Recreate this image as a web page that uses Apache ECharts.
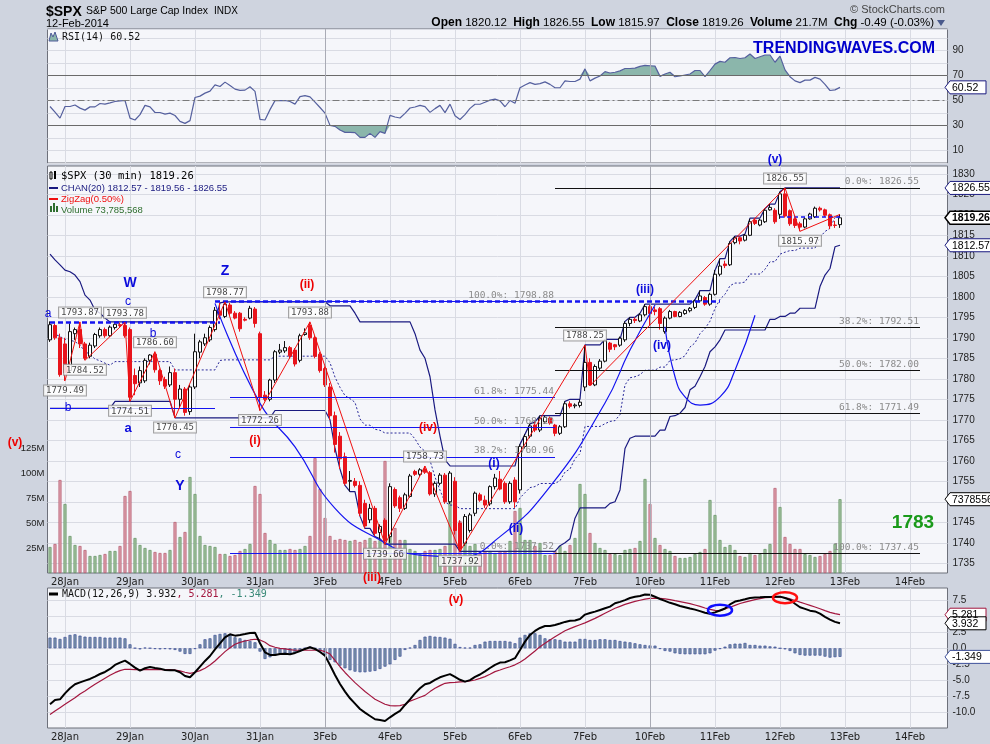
<!DOCTYPE html>
<html>
<head>
<meta charset="utf-8">
<title>$SPX 30 min</title>
<script src="https://cdn.jsdelivr.net/npm/echarts@6.0.0/dist/echarts.min.js"></script>
<style>
  html, body { margin: 0; padding: 0; background: #cfd4df; }
  #main { width: 990px; height: 744px; }
</style>
</head>
<body>
<div id="main"></div>
<script>
// x axis: 3 bars of 27Jan, then 13 half-hour bars per trading day
const days = ['28Jan','29Jan','30Jan','31Jan','3Feb','4Feb','5Feb','6Feb','7Feb','10Feb','11Feb','12Feb','13Feb','14Feb'];
const times = ['09:30','10:00','10:30','11:00','11:30','12:00','12:30','13:00','13:30','14:00','14:30','15:00','15:30'];
const leadBars = ['27Jan 14:30','27Jan 15:00','27Jan 15:30'];

// price bars (30 min)
const opens = [1789.5,1793.0,1790.0,
  1788.5,1782.0,1791.0,1792.0,1788.5,1785.5,1788.0,1790.5,1792.0,1790.5,1792.5,1793.2,1793.0,
  1792.0,1780.8,1779.0,1779.5,1784.5,1786.0,1782.0,1779.8,1778.5,1781.5,1775.0,1777.5,1772.0,
  1778.0,1786.5,1788.5,1789.5,1792.0,1796.5,1795.2,1798.0,1796.0,1796.0,1794.5,1794.8,1797.0,
  1791.0,1776.0,1775.0,1779.7,1786.5,1786.8,1787.6,1787.0,1784.5,1790.8,1793.0,1790.0,1786.0,
  1782.5,1778.0,1771.0,1766.0,1761.0,1755.0,1755.0,1754.0,1749.6,1745.6,1748.4,1742.5,1745.5,
  1741.5,1753.0,1751.0,1748.4,1751.3,1757.4,1756.7,1758.0,1757.1,1751.9,1754.5,1756.5,1750.0,
  1755.0,1744.8,1739.9,1743.0,1747.2,1751.7,1750.4,1749.5,1753.7,1755.5,1754.5,1750.0,1755.3,
  1752.9,1763.5,1766.0,1768.7,1767.5,1769.5,1770.4,1768.7,1766.7,1768.3,1773.9,1773.4,1773.5,
  1778.0,1784.0,1778.5,1782.6,1784.3,1788.7,1788.3,1788.2,1789.5,1793.5,1794.5,1794.1,1795.6,
  1797.6,1796.8,1797.1,1791.5,1794.8,1796.4,1795.2,1795.9,1796.6,1797.4,1799.0,1799.8,1798.2,
  1800.6,1805.5,1808.0,1807.8,1813.2,1814.4,1813.8,1815.0,1818.7,1817.5,1818.3,1821.2,1821.1,
  1820.12,1825.1,1821.0,1819.0,1817.8,1817.0,1819.0,1819.5,1821.6,1821.2,1820.0,1817.5,1817.6];
const highs = [1794.0,1793.5,1791.0,
  1790.0,1793.5,1792.5,1793.87,1789.0,1788.8,1791.2,1792.5,1792.5,1793.0,1793.5,1793.7,1793.78,
  1792.5,1782.5,1783.0,1785.0,1786.0,1786.60,1782.5,1780.5,1783.0,1782.5,1778.5,1778.0,1778.5,
  1791.0,1789.5,1791.0,1793.0,1797.5,1798.5,1798.77,1798.5,1796.5,1796.3,1795.0,1797.8,1797.5,
  1791.5,1777.0,1780.0,1787.0,1788.5,1789.2,1788.0,1787.5,1791.0,1792.3,1793.88,1790.5,1786.5,
  1783.0,1779.0,1772.0,1767.0,1762.0,1757.5,1755.8,1755.0,1750.5,1749.5,1749.0,1744.5,1746.0,
  1754.5,1753.5,1751.5,1752.2,1756.8,1757.8,1758.2,1758.73,1757.5,1755.0,1757.0,1757.0,1757.5,
  1756.0,1745.5,1747.0,1747.3,1752.5,1752.2,1751.5,1754.0,1756.8,1757.5,1755.0,1755.0,1756.0,
  1764.0,1766.5,1769.0,1769.5,1771.0,1771.0,1770.8,1769.0,1768.7,1774.5,1774.5,1774.0,1775.0,
  1788.25,1785.0,1783.5,1784.8,1789.6,1789.0,1788.5,1790.3,1794.0,1795.0,1795.0,1796.0,1798.2,
  1798.0,1797.5,1797.5,1795.2,1796.8,1796.6,1796.5,1797.0,1797.5,1799.3,1801.5,1800.2,1801.0,
  1806.5,1809.3,1808.8,1813.5,1814.8,1814.8,1815.3,1819.0,1819.2,1819.0,1821.5,1822.6,1821.6,
  1825.6,1826.55,1821.3,1819.3,1818.3,1819.4,1820.5,1822.0,1822.0,1821.5,1820.3,1818.5,1820.1];
const lows = [1789.0,1789.5,1780.5,
  1779.49,1781.5,1789.5,1787.5,1784.52,1785.0,1787.5,1790.0,1790.0,1790.2,1792.0,1792.5,1790.0,
  1774.51,1776.0,1778.0,1779.0,1783.5,1781.5,1778.5,1777.5,1778.0,1770.45,1773.0,1771.0,1771.2,
  1777.5,1785.0,1788.0,1789.0,1791.5,1794.5,1794.8,1795.5,1794.5,1791.5,1794.0,1794.5,1792.5,
  1772.26,1774.5,1774.5,1779.0,1786.0,1786.3,1785.0,1783.0,1784.0,1790.5,1789.5,1785.0,1781.5,
  1778.0,1770.0,1762.0,1758.0,1754.0,1752.5,1753.5,1746.5,1743.5,1744.8,1741.5,1741.0,1739.66,
  1740.0,1748.5,1747.5,1748.0,1751.0,1756.3,1756.2,1756.8,1751.5,1751.2,1754.0,1749.5,1749.5,
  1742.0,1737.92,1739.3,1742.5,1746.5,1750.0,1748.5,1749.0,1753.0,1752.8,1749.5,1749.5,1748.5,
  1752.0,1763.0,1765.5,1767.0,1767.0,1769.0,1768.8,1766.0,1766.3,1768.0,1772.8,1772.8,1773.0,
  1777.0,1778.3,1778.2,1782.0,1784.0,1786.5,1787.0,1787.8,1789.0,1792.8,1793.6,1793.8,1795.2,
  1793.0,1795.5,1792.0,1791.0,1794.5,1795.0,1795.0,1795.6,1796.2,1797.0,1798.7,1797.8,1797.8,
  1800.3,1805.0,1807.0,1807.5,1812.8,1812.8,1813.5,1814.8,1817.5,1817.2,1818.0,1821.0,1817.8,
  1819.0,1819.3,1817.3,1816.8,1815.97,1816.7,1818.8,1819.2,1820.8,1819.5,1816.5,1816.8,1816.8];
const closes = [1793.2,1790.0,1781.0,
  1781.5,1791.5,1792.0,1788.5,1785.0,1788.2,1790.8,1792.0,1790.5,1792.6,1793.3,1793.0,1790.5,
  1775.5,1778.8,1782.0,1784.5,1785.8,1782.2,1779.5,1778.2,1781.5,1775.0,1777.5,1771.8,1778.0,
  1786.6,1789.0,1790.0,1792.5,1796.7,1795.5,1798.2,1796.0,1794.8,1792.2,1794.3,1797.2,1793.5,
  1775.5,1775.0,1779.7,1786.6,1787.0,1787.6,1785.6,1783.6,1790.5,1791.2,1790.0,1785.5,1782.0,
  1778.5,1771.0,1764.0,1760.5,1754.5,1755.2,1754.0,1747.2,1744.1,1748.4,1742.3,1744.0,1740.5,
  1753.7,1749.0,1748.4,1751.7,1756.3,1756.7,1757.8,1757.2,1751.9,1754.5,1756.5,1750.0,1757.0,
  1743.0,1738.5,1746.4,1746.8,1752.1,1750.4,1749.2,1753.7,1755.8,1753.1,1750.0,1754.5,1750.0,
  1763.5,1765.9,1768.5,1767.5,1770.4,1770.6,1769.2,1766.7,1768.3,1773.9,1773.3,1773.6,1774.3,
  1784.0,1778.5,1783.0,1784.3,1789.3,1787.2,1787.8,1789.9,1793.5,1794.5,1794.2,1795.6,1797.6,
  1795.9,1796.4,1793.5,1794.8,1796.4,1795.2,1796.2,1796.7,1797.2,1799.0,1800.2,1798.2,1800.6,
  1805.5,1807.5,1807.6,1813.0,1814.4,1813.6,1815.0,1818.3,1817.9,1818.7,1821.1,1821.8,1818.3,
  1825.1,1819.7,1817.8,1817.4,1817.0,1819.0,1820.2,1821.6,1821.2,1819.9,1817.3,1817.4,1819.26];

// volume, millions
const volume = [26,29,93,
  69,37,28,27,23,17,17,18,19,22,22,27,77,
  82,35,28,25,23,21,20,20,23,51,36,41,96,
  79,37,28,27,26,19,19,17,18,22,24,29,87,
  79,40,33,29,23,23,24,23,24,27,37,115,84,
  55,37,33,34,33,32,33,31,33,35,32,33,112,
  86,45,33,33,24,22,19,22,23,23,24,27,100,
  82,52,35,27,29,20,22,22,20,22,22,32,62,
  65,33,33,27,30,18,18,22,27,22,28,35,89,
  79,40,30,25,23,19,19,18,23,24,25,32,94,
  69,35,28,24,22,17,15,15,16,19,21,24,73,
  58,33,26,28,23,17,16,20,18,19,24,29,85,
  66,36,29,24,24,19,18,16,17,19,22,29,73.79];

// price channel CHAN(20)
const chanUpper = [1810.4,1809.0,1807.8,
  1806.5,1806.1,1805.3,1803.7,1800.4,1799.2,1796.8,1796.0,1794.8,1793.87,1793.87,1793.87,1793.87,
  1793.87,1793.87,1793.87,1793.87,1793.87,1793.87,1793.87,1793.87,1793.87,1793.87,1793.87,1793.87,1793.87,
  1793.87,1793.87,1793.87,1793.87,1793.87,1798.5,1798.77,1798.77,1798.77,1798.77,1798.77,1798.77,1798.77,
  1798.77,1798.77,1798.77,1798.77,1798.77,1798.77,1798.77,1798.77,1798.77,1798.77,1798.77,1798.77,1798.77,
  1798.77,1797.8,1797.8,1797.8,1797.8,1797.8,1796.0,1793.88,1793.88,1793.88,1793.88,1793.88,1793.88,
  1793.88,1793.88,1793.88,1793.88,1793.88,1791.0,1787.0,1785.0,1780.5,1772.4,1766.0,1760.2,1758.73,
  1758.73,1758.73,1758.73,1758.73,1758.73,1758.73,1758.73,1758.73,1758.73,1758.73,1758.73,1758.73,1758.73,
  1764.0,1766.5,1769.0,1769.5,1771.0,1771.0,1771.0,1771.0,1771.0,1774.5,1775.0,1775.0,1775.0,
  1788.25,1788.25,1788.25,1788.25,1789.6,1789.6,1789.6,1789.6,1794.0,1795.0,1795.0,1796.0,1798.2,
  1798.2,1798.2,1798.2,1798.2,1798.2,1798.2,1798.2,1798.2,1798.2,1799.3,1801.5,1801.5,1801.5,
  1806.5,1809.3,1809.3,1813.5,1814.8,1814.8,1815.3,1819.2,1819.2,1819.2,1821.5,1822.6,1822.6,
  1825.6,1826.55,1826.55,1826.55,1826.55,1826.55,1826.55,1826.55,1826.55,1826.55,1826.55,1826.55,1826.55];
const chanLower = [1772.8,1772.8,1772.8,
  1772.8,1772.8,1772.8,1772.8,1772.8,1772.8,1772.8,1772.8,1772.8,1772.8,1774.51,1774.51,1774.51,
  1774.51,1774.51,1774.51,1774.51,1774.51,1774.51,1774.51,1774.51,1774.51,1770.45,1770.45,1770.45,1770.45,
  1770.45,1770.45,1770.45,1770.45,1770.45,1770.45,1770.45,1770.45,1770.45,1770.45,1770.45,1770.45,1770.45,
  1770.45,1770.45,1770.45,1772.26,1772.26,1772.26,1772.26,1772.26,1772.26,1772.26,1772.26,1772.26,1772.26,
  1772.26,1770.0,1763.0,1758.0,1754.0,1752.5,1752.5,1746.5,1743.5,1743.5,1741.5,1741.0,1739.66,
  1739.66,1739.66,1739.66,1739.66,1739.66,1739.66,1739.66,1739.66,1739.66,1739.66,1739.66,1739.66,1739.66,
  1739.66,1737.92,1737.92,1737.92,1737.92,1737.92,1737.92,1737.92,1737.92,1737.92,1737.92,1737.92,1737.92,
  1737.92,1737.92,1737.92,1737.92,1737.92,1737.92,1737.92,1737.92,1739.3,1740.0,1741.0,1746.0,1748.5,
  1748.5,1748.5,1748.5,1748.5,1748.5,1749.6,1750.0,1752.9,1763.0,1765.5,1766.0,1766.0,1766.0,
  1766.0,1766.0,1767.5,1767.5,1770.8,1771.0,1771.6,1773.0,1777.3,1778.2,1780.5,1783.0,1786.6,
  1787.8,1789.5,1791.9,1791.9,1791.9,1791.9,1791.9,1791.9,1791.9,1791.9,1791.9,1794.5,1794.5,
  1795.2,1795.2,1796.0,1796.0,1797.2,1797.2,1797.2,1797.2,1802.5,1805.3,1806.9,1812.2,1812.57];

// RSI(14)
const rsi = [45.2,40.7,35.9,
  45.2,45.2,46.4,43.9,42.3,44.9,44.9,47.6,47.1,48.1,49.2,49.7,50.0,
  35.9,34.4,38.7,46.1,44.9,40.4,40.4,39.1,39.9,38.0,33.3,31.7,33.9,
  52.4,53.5,55.9,57.5,62.5,61.2,64.7,62.0,59.1,58.1,58.3,61.0,57.3,
  34.9,34.4,42.7,49.9,49.9,50.0,49.2,47.1,53.1,53.9,52.9,48.7,44.4,
  39.9,30.1,29.3,26.4,24.5,24.5,24.3,20.5,20.5,23.7,20.5,25.1,23.7,
  38.1,36.8,36.0,39.7,44.0,44.8,46.1,45.1,40.5,43.5,46.1,40.3,47.1,
  37.8,34.8,38.7,43.7,47.0,47.0,48.6,50.3,51.1,49.7,45.0,50.0,47.8,
  60.2,62.4,64.3,62.9,63.5,64.9,62.9,60.2,60.2,65.7,65.2,65.2,67.1,
  75.3,65.7,67.9,69.6,73.1,72.0,72.6,73.7,75.6,75.6,75.9,77.3,78.1,
  77.8,77.5,69.3,71.2,72.6,69.0,69.6,70.4,71.2,74.0,74.0,69.0,74.0,
  79.1,81.3,80.6,84.2,84.4,83.6,84.2,87.2,83.6,85.0,86.4,86.4,80.6,
  85.5,74.5,69.0,65.7,64.3,66.3,66.3,68.5,67.1,62.9,58.0,58.5,60.52];

// MACD(12,26,9): line, signal, histogram
const macd = [-8.81,-8.12,-8.02,
  -7.08,-6.29,-5.66,-5.35,-5.08,-4.82,-4.45,-4.04,-3.72,-3.25,-2.62,-2.25,-1.94,
  -2.46,-3.04,-3.51,-3.14,-2.94,-3.09,-3.20,-3.41,-3.46,-3.46,-3.77,-4.35,-4.56,
  -3.77,-2.88,-1.99,-1.21,-0.16,0.79,1.73,2.20,1.99,2.10,2.25,2.41,2.46,
  0.79,-0.63,-1.05,-1.05,-0.89,-0.84,-0.94,-0.73,-0.42,-0.10,0.16,-0.10,-0.58,
  -1.15,-2.62,-4.19,-5.61,-6.81,-7.86,-8.70,-9.54,-10.12,-10.64,-11.16,-11.27,-11.43,
  -10.85,-10.32,-9.85,-8.91,-8.02,-7.08,-6.29,-5.66,-5.45,-4.98,-4.56,-4.30,-4.06,
  -4.50,-4.95,-5.24,-5.00,-4.50,-4.12,-3.62,-3.10,-2.60,-2.25,-2.20,-1.90,-1.55,
  -0.26,1.05,2.10,2.73,3.20,3.50,3.51,3.67,3.90,4.15,4.33,4.38,4.60,
  5.30,5.55,5.77,6.03,6.29,6.55,7.08,7.30,7.58,7.90,8.10,8.22,8.45,
  8.42,8.10,7.75,7.45,7.15,6.92,6.65,6.45,6.25,6.08,5.85,5.60,5.42,
  5.65,5.95,6.25,6.90,7.35,7.52,7.70,7.92,8.00,8.02,8.07,8.07,8.10,
  8.12,7.90,7.62,7.00,6.45,6.20,5.92,5.80,5.45,4.95,4.52,4.15,3.932];
const signal = [-10.40,-9.85,-9.33,
  -8.81,-8.28,-7.76,-7.18,-6.71,-6.18,-5.66,-5.19,-4.72,-4.25,-3.83,-3.51,-3.30,
  -3.30,-3.35,-3.35,-3.35,-3.35,-3.35,-3.35,-3.35,-3.35,-3.41,-3.56,-3.77,-3.93,
  -3.77,-3.51,-3.14,-2.62,-1.99,-1.26,-0.52,0.10,0.63,0.94,1.15,1.31,1.42,
  1.31,0.94,0.42,0.16,0.00,-0.10,-0.21,-0.31,-0.31,-0.31,-0.31,-0.31,-0.31,
  -0.52,-0.90,-1.90,-2.90,-3.80,-4.60,-5.40,-6.10,-6.80,-7.40,-8.00,-8.40,-8.80,
  -9.00,-9.05,-9.00,-8.80,-8.30,-8.00,-7.70,-7.40,-6.81,-6.29,-5.87,-5.50,-5.40,
  -5.35,-5.29,-5.24,-5.14,-4.98,-4.72,-4.45,-4.09,-3.67,-3.41,-3.14,-2.90,-2.60,
  -2.20,-1.68,-1.05,-0.42,0.26,0.79,1.31,1.83,2.30,2.75,3.10,3.40,3.70,
  4.00,4.35,4.70,5.10,5.50,5.90,6.30,6.60,6.90,7.15,7.38,7.55,7.72,
  7.84,7.86,7.86,7.76,7.65,7.49,7.34,7.18,7.02,6.81,6.60,6.34,6.13,
  5.95,5.92,6.18,6.45,6.75,7.05,7.25,7.45,7.65,7.82,7.95,8.02,8.07,
  8.05,7.97,7.78,7.52,7.25,7.00,6.75,6.50,6.22,5.92,5.65,5.45,5.281];
const macdHist = [1.68,1.68,1.47,
  1.78,2.10,2.20,1.99,1.83,1.78,1.78,1.78,1.68,1.68,1.68,1.68,1.57,
  0.63,0.05,-0.16,0.10,0.03,-0.10,-0.16,-0.10,-0.16,-0.26,-0.52,-0.89,-0.89,
  -0.10,0.63,1.42,1.57,2.10,2.26,2.36,2.20,1.73,1.57,1.31,1.15,0.94,
  -0.52,-1.68,-1.42,-1.15,-0.89,-0.79,-0.79,-0.79,-0.42,0.05,0.26,0.02,-0.52,
  -1.15,-1.83,-2.20,-2.73,-3.14,-3.46,-3.67,-3.77,-3.77,-3.67,-3.56,-3.25,-2.88,
  -2.52,-1.83,-1.31,-0.26,0.10,0.52,1.31,1.83,1.94,1.83,1.78,1.68,1.50,
  0.70,0.20,0.10,0.10,0.52,0.63,1.05,1.15,1.15,1.15,1.15,1.05,0.79,
  1.68,2.10,2.36,2.36,2.10,1.57,1.42,1.42,1.31,1.05,1.05,1.05,1.47,
  1.47,1.31,1.31,1.42,1.42,1.31,1.31,1.15,1.05,0.94,0.79,0.63,0.52,
  0.45,0.42,-0.10,-0.42,-0.52,-0.79,-0.89,-0.94,-0.94,-0.94,-0.94,-0.94,-0.79,
  -0.37,-0.10,0.26,0.63,0.73,0.73,0.84,0.52,0.52,0.42,0.42,0.31,0.26,
  0.00,-0.16,-0.42,-0.79,-1.05,-1.15,-1.15,-1.15,-1.15,-1.31,-1.47,-1.40,-1.349];

// ZigZag(0.50%) turning points: [bar, price]
const swings = [[3,1779.49],[6,1793.87],[7,1784.52],[15,1793.78],[16,1774.51],[21,1786.60],[25,1770.45],
  [35,1798.77],[42,1772.26],[52,1793.88],[67,1739.66],[75,1758.73],[82,1737.92],[107,1788.25],
  [108,1778.30],[147,1826.55],[150,1815.97],[158,1820.10]];
const swingsUnlabeled = [108, 158];

// Fibonacci retracements drawn on the chart
const fibLeftLevels = [1798.88, 1775.44, 1768.20, 1760.96, 1737.52];
const fibLeftPct = ['100.0%', '61.8%', '50.0%', '38.2%', '0.0%'];
const fibRightLevels = [1826.55, 1792.51, 1782.00, 1771.49, 1737.45];
const fibRightPct = ['0.0%', '38.2%', '50.0%', '61.8%', '100.0%'];

// hand drawn blue arcs: [bar, price]
const bigArc = [[33,1798.4],[42,1774.0],[49,1763.4],[57,1748.4],[66,1740.7],[74,1737.0],[82,1736.6],
  [90,1741.5],[100,1753.7],[111,1774.1],[116,1787.0],[121,1798.0]];
const smallArc = [[123,1792.7],[125,1780.5],[127,1775.6],[130,1773.6],[134,1775.6],[137,1782.1],[141,1795.5]];

const priceTicks = [1735,1740,1745,1750,1755,1760,1765,1770,1775,1780,1785,1790,1795,1800,1805,1810,1815,1820,1825,1830];
const volTicks = [25,50,75,100,125];
const macdTicks = [-10,-7.5,-5,-2.5,0,2.5,5,7.5];

// categories
const cats = leadBars.slice();
days.forEach(function (d, i) {
  const n = i === days.length - 1 ? 8 : times.length;
  for (let t = 0; t < n; t++) cats.push(d + ' ' + times[t]);
});
const dayStart = new Set();
cats.forEach(function (c, i) { if (c.endsWith('09:30')) dayStart.add(i); });
const weekStart = [cats.indexOf('3Feb 09:30'), cats.indexOf('10Feb 09:30')];

const chanMid = chanUpper.map(function (u, i) { return (u + chanLower[i]) / 2; });

const BLUE = '#1414f0', NAVY = '#1a1a80', RED = '#f01010', GRIDC = '#d9dbe3';
const MONO = 'DejaVu Sans Mono', SANS = 'Liberation Sans';

function hseg(k1, k2, p, color, width, type, text) {
  return [
    { coord: [cats[k1], p], lineStyle: { color: color, width: width, type: type },
      label: text ? { show: true, position: 'insideEndTop', formatter: text, color: '#8a8a8a',
        fontSize: 9.5, fontFamily: MONO, distance: 1 } : { show: false } },
    { coord: [cats[k2], p] }
  ];
}

const userLines = [];
fibLeftLevels.forEach(function (p, i) {
  userLines.push(hseg(36, 101, p, BLUE, 1, 'solid', fibLeftPct[i] + ': ' + p.toFixed(2)));
});
fibRightLevels.forEach(function (p, i) {
  userLines.push(hseg(101, 174, p, '#111', 1, 'solid', fibRightPct[i] + ': ' + p.toFixed(2)));
});
userLines.push(hseg(33, 134, 1798.88, BLUE, 2.5, [5, 3]));
userLines.push(hseg(0, 34, 1793.87, BLUE, 2.5, [5, 3]));
userLines.push(hseg(0, 33, 1772.8, BLUE, 1, 'solid'));
userLines.push(hseg(146, 158, 1819.5, BLUE, 1.5, [4, 3]));

function weekLines() {
  return {
    silent: true, symbol: ['none', 'none'], label: { show: false }, animation: false,
    lineStyle: { color: '#a9abb5', width: 1, type: 'solid' },
    data: weekStart.map(function (k) { return { xAxis: cats[k] }; })
  };
}

const swingLabelData = [];
swings.forEach(function (s, i) {
  if (swingsUnlabeled.indexOf(s[0]) >= 0) return;
  const isHigh = i === 0 ? s[1] > swings[1][1] : s[1] > swings[i - 1][1];
  swingLabelData.push({ value: [cats[s[0]], s[1]], label: { position: isHigh ? 'top' : 'bottom' } });
});

function xAxisFor(idx, labels) {
  return {
    type: 'category', gridIndex: idx, data: cats, boundaryGap: true,
    axisLine: { show: false }, axisTick: { show: false },
    axisLabel: {
      show: labels, interval: function (i) { return dayStart.has(i); },
      formatter: function (v) { return v.split(' ')[0]; },
      color: '#222', fontSize: 10, fontFamily: 'DejaVu Sans', margin: 4
    },
    splitLine: { show: true, alignWithLabel: true, interval: function (i) { return dayStart.has(i); },
      lineStyle: { color: GRIDC, width: 1 } }
  };
}

const chart = echarts.init(document.getElementById('main'));

const gridBase = { left: 47.5, right: 42.5, show: true, backgroundColor: '#f5f6fa', borderColor: '#6d707a', borderWidth: 1 };

chart.setOption({
  animation: false,
  backgroundColor: '#cfd4df',
  grid: [
    Object.assign({ top: 29, height: 134 }, gridBase),
    Object.assign({ top: 166, height: 407 }, gridBase),
    Object.assign({ top: 588, height: 140 }, gridBase)
  ],
  xAxis: [xAxisFor(0, false), xAxisFor(1, true), xAxisFor(2, true)],
  yAxis: [
    { type: 'value', gridIndex: 0, position: 'right', min: 0, max: 107.2, interval: 10,
      axisLine: { show: false }, axisTick: { show: false },
      axisLabel: { formatter: function (v) { return v % 20 === 10 ? String(v) : ''; }, color: '#222', fontSize: 10, fontFamily: SANS, margin: 5 },
      splitLine: { lineStyle: { color: GRIDC } } },
    { type: 'value', gridIndex: 1, position: 'right', min: 1732.63, max: 1831.9,
      axisLine: { show: false }, axisTick: { show: false, customValues: priceTicks },
      axisLabel: { customValues: priceTicks, formatter: function (v) { return String(v); }, color: '#222', fontSize: 10, fontFamily: SANS, margin: 5 },
      splitLine: { lineStyle: { color: GRIDC } } },
    { type: 'value', gridIndex: 1, position: 'left', min: 0, max: 407,
      axisLine: { show: false }, axisTick: { show: false, customValues: volTicks },
      axisLabel: { customValues: volTicks, formatter: function (v) { return v + 'M'; }, color: '#222', fontSize: 9.5, fontFamily: SANS, margin: 3 },
      splitLine: { show: false } },
    { type: 'value', gridIndex: 2, position: 'right', min: -12.53, max: 9.48,
      axisLine: { show: false }, axisTick: { show: false, customValues: macdTicks },
      axisLabel: { customValues: macdTicks, formatter: function (v) { return v.toFixed(1); }, color: '#222', fontSize: 10, fontFamily: SANS, margin: 5 },
      splitLine: { lineStyle: { color: GRIDC } } }
  ],
  series: [
    // RSI panel
    { type: 'line', xAxisIndex: 0, yAxisIndex: 0, stack: 'hi', data: rsi.map(function () { return 70; }),
      symbol: 'none', lineStyle: { opacity: 0 }, silent: true, z: 1 },
    { type: 'line', xAxisIndex: 0, yAxisIndex: 0, stack: 'hi', data: rsi.map(function (v) { return Math.max(v, 70) - 70; }),
      symbol: 'none', lineStyle: { opacity: 0 }, areaStyle: { color: '#8bb6ab', opacity: 1 }, silent: true, z: 1 },
    { type: 'line', xAxisIndex: 0, yAxisIndex: 0, stack: 'lo', data: rsi.map(function (v) { return Math.min(v, 30); }),
      symbol: 'none', lineStyle: { opacity: 0 }, silent: true, z: 1 },
    { type: 'line', xAxisIndex: 0, yAxisIndex: 0, stack: 'lo', data: rsi.map(function (v) { return 30 - Math.min(v, 30); }),
      symbol: 'none', lineStyle: { opacity: 0 }, areaStyle: { color: '#8bb6ab', opacity: 1 }, silent: true, z: 1 },
    { type: 'line', xAxisIndex: 0, yAxisIndex: 0, data: rsi, symbol: 'none',
      lineStyle: { color: '#55609e', width: 1.2 }, z: 3,
      markLine: { silent: true, symbol: ['none', 'none'], label: { show: false }, animation: false,
        data: [
          { yAxis: 70, lineStyle: { color: '#6a6a6a', width: 1, type: 'solid' } },
          { yAxis: 30, lineStyle: { color: '#6a6a6a', width: 1, type: 'solid' } },
          { yAxis: 50, lineStyle: { color: '#7a7a7a', width: 1, type: [7, 3, 2, 3] } },
          { xAxis: cats[weekStart[0]], lineStyle: { color: '#a9abb5', width: 1, type: 'solid' } },
          { xAxis: cats[weekStart[1]], lineStyle: { color: '#a9abb5', width: 1, type: 'solid' } }
        ] } },

    // price panel
    { type: 'bar', xAxisIndex: 1, yAxisIndex: 2, barWidth: 3, z: 1, silent: true,
      data: volume.map(function (v, i) {
        const up = closes[i] >= (i === 0 ? opens[0] : closes[i - 1]);
        return { value: v, itemStyle: up
          ? { color: '#a3c1a0', borderColor: '#5f8f5c', borderWidth: 0.7 }
          : { color: '#dca0ab', borderColor: '#b5566c', borderWidth: 0.7 } };
      }),
      markLine: weekLines() },
    { type: 'line', xAxisIndex: 1, yAxisIndex: 1, data: chanUpper, symbol: 'none',
      lineStyle: { color: NAVY, width: 1.2 }, z: 3 },
    { type: 'line', xAxisIndex: 1, yAxisIndex: 1, data: chanLower, symbol: 'none',
      lineStyle: { color: NAVY, width: 1.2 }, z: 3 },
    { type: 'line', xAxisIndex: 1, yAxisIndex: 1, data: chanMid, symbol: 'none',
      lineStyle: { color: '#2a2a9a', width: 1, type: [2, 2] }, z: 3 },
    { type: 'candlestick', xAxisIndex: 1, yAxisIndex: 1, barWidth: 3, z: 4,
      data: opens.map(function (o, i) { return [o, closes[i], lows[i], highs[i]]; }),
      itemStyle: { color: '#ffffff', color0: '#e8141c', borderColor: '#111111', borderColor0: '#e8141c', borderWidth: 1 },
      markLine: { silent: true, symbol: ['none', 'none'], animation: false, data: userLines } },
    { type: 'line', xAxisIndex: 1, yAxisIndex: 1, data: bigArc.map(function (p) { return [cats[p[0]], p[1]]; }),
      symbol: 'none', smooth: 0.5, lineStyle: { color: BLUE, width: 1.2 }, z: 5 },
    { type: 'line', xAxisIndex: 1, yAxisIndex: 1, data: smallArc.map(function (p) { return [cats[p[0]], p[1]]; }),
      symbol: 'none', smooth: 0.5, lineStyle: { color: BLUE, width: 1.2 }, z: 5 },
    { type: 'line', xAxisIndex: 1, yAxisIndex: 1, data: swings.map(function (s) { return [cats[s[0]], s[1]]; }),
      symbol: 'none', lineStyle: { color: RED, width: 1 }, z: 6 },
    { type: 'scatter', xAxisIndex: 1, yAxisIndex: 1, data: swingLabelData, symbolSize: 1,
      itemStyle: { color: 'rgba(0,0,0,0)' }, z: 8,
      label: { show: true, formatter: function (p) { return p.value[1].toFixed(2); },
        backgroundColor: '#ffffff', borderColor: '#8c8c8c', borderWidth: 1, padding: [1, 2, 0, 2],
        color: '#111', fontFamily: MONO, fontSize: 9, distance: 4 } },

    // MACD panel
    { type: 'bar', xAxisIndex: 2, yAxisIndex: 3, data: macdHist, barWidth: 3, z: 2, silent: true,
      itemStyle: { color: '#7f98a8', borderColor: '#3d4f9a', borderWidth: 0.7 },
      markLine: weekLines() },
    { type: 'line', xAxisIndex: 2, yAxisIndex: 3, data: signal, symbol: 'none',
      lineStyle: { color: '#a3173f', width: 1.2 }, z: 3 },
    { type: 'line', xAxisIndex: 2, yAxisIndex: 3, data: macd, symbol: 'none',
      lineStyle: { color: '#000000', width: 2 }, z: 4 }
  ]
});

// text, legends, flags and circles
const G = [];
function txt(x, y, text, fill, font, align, extra) {
  const o = { type: 'text', x: x, y: y, z: 100, silent: true,
    style: Object.assign({ text: text, fill: fill, font: font, align: align || 'left', textAlign: align || 'left',
      verticalAlign: 'middle', textVerticalAlign: 'middle' }, extra || {}) };
  G.push(o);
}
// header
txt(46, 12, '$SPX', '#000', 'bold 14px ' + SANS);
txt(86, 11, 'S&P 500 Large Cap Index', '#000', '10.5px ' + SANS);
txt(214, 11, 'INDX', '#000', '10px ' + SANS);
txt(46, 24, '12-Feb-2014', '#000', '11px ' + SANS);
txt(945, 10, '\u00a9 StockCharts.com', '#444', '11px ' + SANS, 'right');
txt(934, 23, '{b|Open} 1820.12  {b|High} 1826.55  {b|Low} 1815.97  {b|Close} 1819.26  {b|Volume} 21.7M  {b|Chg} -0.49 (-0.03%)',
  '#000', '11.5px ' + SANS, 'right', { rich: { b: { fontWeight: 'bold', fontSize: 12, fontFamily: SANS, fill: '#000' } } });
G.push({ type: 'polygon', z: 100, silent: true, shape: { points: [[937, 20], [945, 20], [941, 26]] }, style: { fill: '#4a5a8c' } });

// RSI legend
G.push({ type: 'polygon', z: 100, silent: true, shape: { points: [[49, 41], [51, 33], [53, 37], [55, 32], [58, 41]] }, style: { fill: '#8bb6ab', stroke: '#4f5a98', lineWidth: 1 } });
txt(62, 37, 'RSI(14) 60.52', '#111', '10px ' + MONO);
txt(935, 49, 'TRENDINGWAVES.COM', '#0000cc', 'bold 16px ' + SANS, 'right');

// price legend
G.push({ type: 'rect', z: 100, silent: true, shape: { x: 50, y: 172, width: 2, height: 7 }, style: { fill: '#fff', stroke: '#000', lineWidth: 1 } });
G.push({ type: 'rect', z: 100, silent: true, shape: { x: 54, y: 171, width: 2, height: 8 }, style: { fill: '#000' } });
txt(61, 176, '$SPX (30 min) 1819.26', '#000', '10.5px ' + MONO);
G.push({ type: 'line', z: 100, silent: true, shape: { x1: 49, y1: 188, x2: 58, y2: 188 }, style: { stroke: NAVY, lineWidth: 2 } });
txt(61, 188, 'CHAN(20) 1812.57 - 1819.56 - 1826.55', NAVY, '9.5px ' + SANS);
G.push({ type: 'line', z: 100, silent: true, shape: { x1: 49, y1: 199, x2: 58, y2: 199 }, style: { stroke: RED, lineWidth: 2 } });
txt(61, 199, 'ZigZag(0.50%)', RED, '9.5px ' + SANS);
[0, 3, 6].forEach(function (dx, j) {
  G.push({ type: 'rect', z: 100, silent: true, shape: { x: 50 + dx, y: j === 1 ? 203 : 206, width: 2, height: j === 1 ? 9 : 6 }, style: { fill: '#2f6f2f' } });
});
txt(61, 210, 'Volume 73,785,568', '#2f6f2f', '9.5px ' + SANS);

// MACD legend
G.push({ type: 'line', z: 100, silent: true, shape: { x1: 49, y1: 594, x2: 58, y2: 594 }, style: { stroke: '#000', lineWidth: 3 } });
txt(62, 594, 'MACD(12,26,9) 3.932{r|, 5.281}{g|, -1.349}', '#111', '10px ' + MONO, 'left',
  { rich: { r: { fill: '#a3173f', fontFamily: MONO, fontSize: 10 }, g: { fill: '#3a8a78', fontFamily: MONO, fontSize: 10 } } });

// wave labels
const WB = '#0a0adc', WR = '#ee0000';
[
  ['W', 130, 283, WB, 'bold 14px '], ['c', 128, 302, WB, '12px '], ['a', 48, 314, WB, '12px '],
  ['b', 68, 408, WB, '12px '], ['b', 153, 334, WB, '12px '], ['a', 128, 428, WB, 'bold 13px '],
  ['c', 178, 455, WB, '12px '], ['Y', 180, 486, WB, 'bold 14px '], ['Z', 225, 271, WB, 'bold 14px '],
  ['(iii)', 645, 290, WB, 'bold 12px '], ['(iv)', 662, 346, WB, 'bold 12px '], ['(i)', 494, 464, WB, 'bold 12px '],
  ['(ii)', 516, 529, WB, 'bold 12px '], ['(v)', 775, 160, WB, 'bold 12px '],
  ['(ii)', 307, 285, WR, 'bold 12px '], ['(i)', 255, 441, WR, 'bold 12px '], ['(iv)', 428, 428, WR, 'bold 12px '],
  ['(iii)', 372, 578, WR, 'bold 12px '], ['(v)', 456, 600, WR, 'bold 12px '], ['(v)', 15, 443, WR, 'bold 12px ']
].forEach(function (a) { txt(a[1], a[2], a[0], a[3], a[4] + SANS, 'center'); });
txt(913, 523, '1783', '#1a9a1a', 'bold 19px ' + SANS, 'center');

// value flags on the right axis
function flag(axisIndex, value, text, color, bold) {
  const y = chart.convertToPixel({ yAxisIndex: axisIndex }, value);
  const w = text.length * 6 + 6;
  G.push({ type: 'polygon', z: 110, silent: true,
    shape: { points: [[945, y], [950, y - 6.5], [950 + w, y - 6.5], [950 + w, y + 6.5], [950, y + 6.5]] },
    style: { fill: '#ffffff', stroke: color, lineWidth: bold ? 1.5 : 1 } });
  txt(952, y + 0.5, text, '#000', (bold ? 'bold ' : '') + '10.5px ' + SANS, 'left');
  G[G.length - 1].z = 111;
}
flag(1, 1826.55, '1826.55', NAVY, false);
flag(1, 1819.26, '1819.26', '#000', true);
flag(1, 1812.57, '1812.57', NAVY, false);
flag(2, 73.79, '73785568', '#000', false);
flag(0, 60.52, '60.52', NAVY, false);
flag(3, 5.281, '5.281', '#a3173f', false);
flag(3, 3.932, '3.932', '#000', false);
flag(3, -1.349, '-1.349', '#3d4f9a', false);

// crossover circles on MACD
[[134, 6.0, '#1010ff'], [147, 7.95, '#ff1010']].forEach(function (c) {
  const p = chart.convertToPixel({ gridIndex: 2 }, [cats[c[0]], c[1]]);
  G.push({ type: 'ellipse', z: 105, silent: true, shape: { cx: p[0], cy: p[1], rx: 12, ry: 5.5 },
    style: { fill: 'none', stroke: c[2], lineWidth: 2.5 } });
});

chart.setOption({ graphic: G });
</script>
</body>
</html>
